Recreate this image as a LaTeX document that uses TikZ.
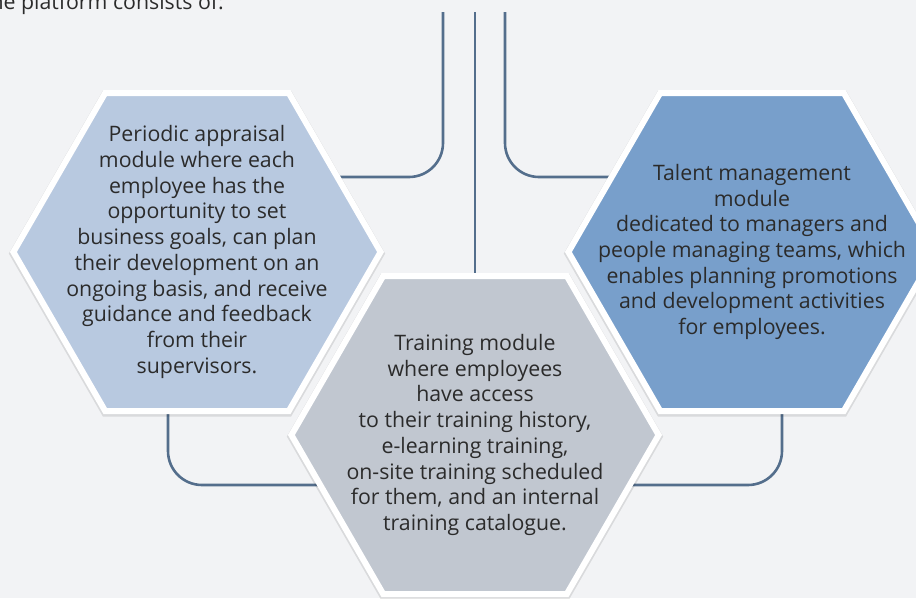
\documentclass[tikz,border=0pt]{standalone}
\usepackage{fontspec}
\setmainfont{Open Sans}
\usetikzlibrary{shapes.geometric,shadows}
\definecolor{bgc}{HTML}{F2F3F5}
\definecolor{linec}{RGB}{84,110,140}
\definecolor{lfill}{HTML}{B8C9E0}
\definecolor{rfill}{HTML}{789FCB}
\definecolor{mfill}{HTML}{C1C7D0}
\definecolor{txtc}{HTML}{2B2B2B}
\tikzset{
  hexa/.style={regular polygon, regular polygon sides=6, minimum size=367.2pt,
    inner sep=0pt, draw=white, line width=6pt,
    drop shadow={shadow xshift=0pt, shadow yshift=-1.5pt, shadow scale=1.025, opacity=0.10, fill=black}},
  txt/.style={align=center, text=txtc, font=\fontsize{21.3}{25.7}\selectfont, inner sep=0pt},
  conn/.style={draw=linec, line width=2.6pt, rounded corners=34pt},
}
\begin{document}
\begin{tikzpicture}[x=1pt,y=-1pt]
\fill[bgc] (0,0) rectangle (916,598);
\useasboundingbox (0,0) rectangle (916,598);
\node[txt, anchor=base east] (title) at (224,9.5) {The platform consists of:};
% connector ends
\coordinate (tl) at (443,12);
\coordinate (tm) at (475,12);
\coordinate (tr) at (505,12);
% hex centers
\coordinate (cL) at (197,252);
\coordinate (cR) at (752,252);
\coordinate (cM) at (475,435);
% connectors
\draw[conn] (tl) |- (cL |- 0,177);
\draw[conn] (tm) -- (cM);
\draw[conn] (tr) |- (cR |- 0,177);
\draw[conn] (cL -| 168,0) |- (cM |- 0,485);
\draw[conn] (cR -| 782,0) |- (cM |- 0,485);
% hexagons
\node[hexa, fill=lfill] (L) at (cL) {};
\node[hexa, fill=rfill] (R) at (cR) {};
\node[hexa, fill=mfill] (M) at (cM) {};
\node[txt] (Lt) at (L) {Periodic appraisal\\module where each\\employee has the\\opportunity to set\\business goals, can plan\\their development on an\\ongoing basis, and receive\\guidance and feedback\\from their\\supervisors.};
\node[txt] (Rt) at (R) {Talent management\\module\\dedicated to managers and\\people managing teams, which\\enables planning promotions\\and development activities\\for employees.};
\node[txt] (Mt) at (M) {Training module\\where employees\\have access\\to their training history,\\e-learning training,\\on-site training scheduled\\for them, and an internal\\training catalogue.};
\end{tikzpicture}
\end{document}
